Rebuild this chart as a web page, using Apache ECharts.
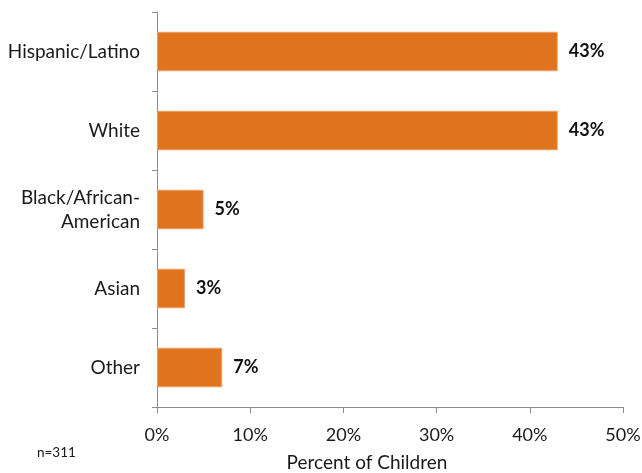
<!DOCTYPE html>
<html>
<head>
<meta charset="utf-8">
<script src="https://cdn.jsdelivr.net/npm/echarts@6/dist/echarts.min.js"></script>
<style>
  html, body { margin: 0; padding: 0; background: #fff; }
  #chart { width: 642px; height: 473px; }
</style>
</head>
<body>
<div id="chart"></div>
<script>
// Race/ethnicity of children, percent of respondents
const categories = ['Hispanic/Latino', 'White', 'Black/African-\nAmerican', 'Asian', 'Other'];
const percents = [43, 43, 5, 3, 7];
const xTicks = [0, 10, 20, 30, 40, 50];
const sampleNote = 'n=311';

const FONT = 'Lato, "Open Sans", sans-serif';
const TEXT = '#1a1a1a';
const AXIS = '#8c8c8c';
const chart = echarts.init(document.getElementById('chart'), null, { renderer: 'canvas' });

chart.setOption({
  animation: false,
  grid: { left: 157, right: 19, top: 12, bottom: 66, containLabel: false, outerBoundsMode: 'none' },
  xAxis: {
    type: 'value',
    min: xTicks[0],
    max: xTicks[xTicks.length - 1],
    interval: xTicks[1] - xTicks[0],
    name: 'Percent of Children',
    nameLocation: 'middle',
    nameGap: 46,
    nameTextStyle: { fontFamily: FONT, fontSize: 19, color: TEXT, padding: [0, 46, 0, 0] },
    axisLine: { show: true, lineStyle: { color: AXIS, width: 1 } },
    axisTick: { show: true, length: 6, lineStyle: { color: AXIS } },
    axisLabel: { formatter: '{value}%', margin: 19, fontFamily: FONT, fontSize: 18, color: TEXT },
    splitLine: { show: false }
  },
  yAxis: {
    type: 'category',
    inverse: true,
    data: categories,
    axisLine: { show: true, lineStyle: { color: AXIS, width: 1 } },
    axisTick: { show: true, length: 5, lineStyle: { color: AXIS } },
    axisLabel: {
      margin: 17, fontFamily: FONT, fontSize: 19, color: TEXT,
      lineHeight: 24, align: 'right'
    }
  },
  series: [{
    type: 'bar',
    data: percents,
    barCategoryGap: '50%',
    itemStyle: { color: '#E0731E', borderColor: '#EDA066', borderWidth: 1 },
    label: {
      show: true,
      position: 'right',
      distance: 11,
      formatter: '{c}%',
      fontFamily: FONT,
      fontSize: 18,
      fontWeight: 'bold',
      color: '#111'
    }
  }],
  graphic: [{
    type: 'text',
    left: 37,
    top: 446,
    style: { text: sampleNote, fontFamily: FONT, fontSize: 13.5, fill: TEXT }
  }]
});
</script>
</body>
</html>
